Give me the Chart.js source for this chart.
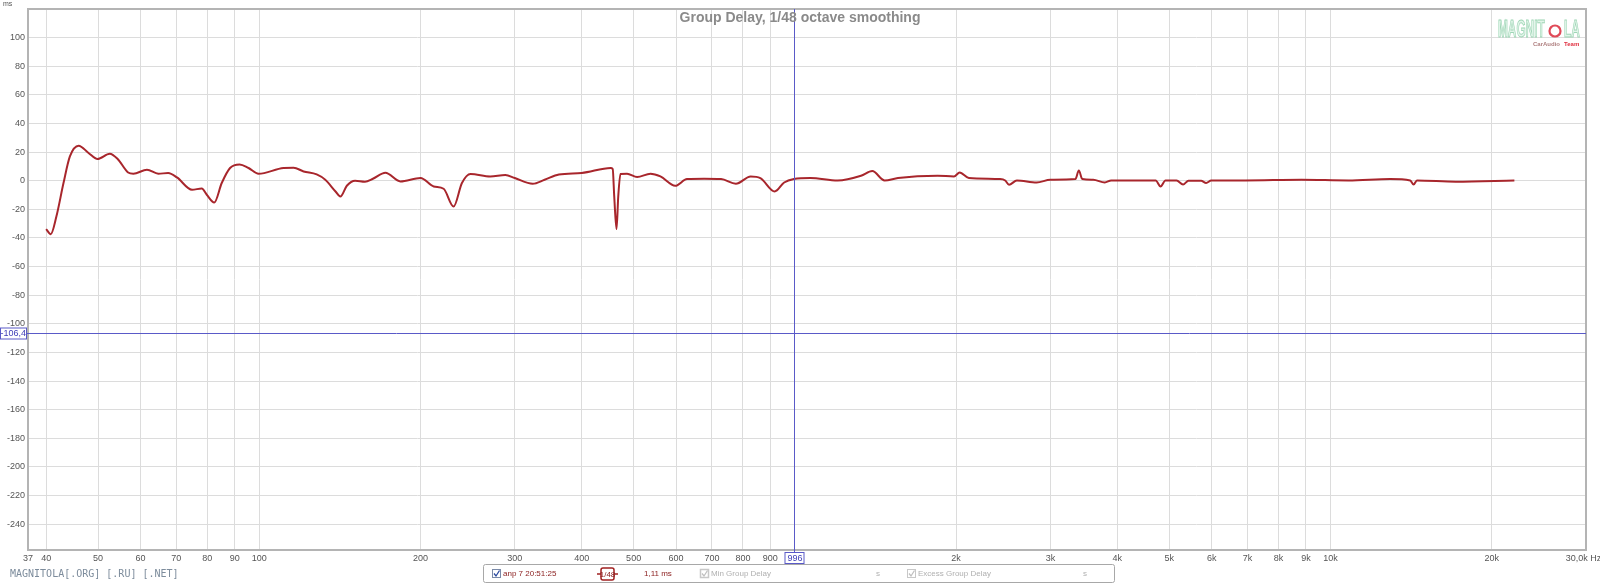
<!DOCTYPE html>
<html>
<head>
<meta charset="utf-8">
<script src="https://cdn.jsdelivr.net/npm/chart.js@4/dist/chart.umd.min.js"></script>
<style>
html,body{margin:0;padding:0;background:#fff;}
canvas{display:block;}
</style>
</head>
<body>
<canvas id="c" width="1600" height="584"></canvas>
<script>
// ---- data ----
const freqs = [40, 40.8, 41.8, 43.1, 44.3, 46, 48, 49.9, 52.6, 54.4, 56.9, 58.2, 61.7, 64.8, 67.6, 70.2, 74.9, 78.1, 79.8, 82.4,
  85.1, 88.2, 91.9, 95.5, 99.7, 111, 115.9, 121, 128, 132.8, 138.8, 141.7, 145.7, 151, 157.5, 163, 172, 183.4, 200,
  211.7, 220.9, 230.6, 239, 248, 270, 288, 300, 324, 341, 362.6, 400, 453, 457, 460, 464.5, 468, 472.5, 486, 507.6,
  537.6, 561, 598, 629, 677, 728, 776, 827, 862, 917, 955, 996, 1069, 1202, 1329, 1395, 1471, 1558, 1847, 1982, 2031,
  2113, 2417, 2470, 2511, 2597, 2828, 3000, 3341, 3390, 3440, 3607, 3790, 3896, 4717, 4817, 4920, 5160, 5306, 5430,
  5734, 5860, 5990, 6926, 8828, 10800, 12924, 14090, 14297, 14500, 17130, 22050];
const delays = [-33.8, -37.3, -25, -1.6, 17, 24.5, 19.4, 15.2, 18.9, 15.2, 5.8, 4.9, 7.7, 4.9, 5.4, 2.3, -6.3, -5.4, -9.8, -15.2,
  -1.6, 8.9, 11.4, 8.9, 4.9, 8.9, 9.1, 6.5, 4.4, 0.7, -7.5, -11, -3.5, 0, -0.7, 1.4, 5.6, -0.5, 1.9,
  -4, -5.6, -18, -1.6, 4.7, 3.0, 4.0, 1.9, -2.1, 0.7, 4.4, 5.4, 8.9, 8.2, -11, -33.8, -11, 4.7, 4.9, 2.6,
  4.9, 3.0, -3.5, 1.2, 1.4, 1.2, -2.1, 3.0, 1.9, -7.5, -1.2, 1.2, 1.9, 0.2, 3.5, 6.8, 0.2, 1.9, 3.5, 3.0, 5.8,
  1.9, 1.2, 0.2, -2.8, 0.2, -1.2, 0.7, 1.2, 7.2, 1.2, 0.7, -1.2, 0.2, 0.2, -4, 0.2, 0.2, -2.6, 0,
  0, -1.6, 0.2, 0.2, 0.7, 0.2, 1.2, 0.2, -2.6, 0.2, -0.7, 0.2];
const xTickValues = [37, 40, 50, 60, 70, 80, 90, 100, 200, 300, 400, 500, 600, 700, 800, 900, 1000,
  2000, 3000, 4000, 5000, 6000, 7000, 8000, 9000, 10000, 20000, 30000];
const xTickLabels = ['37', '40', '50', '60', '70', '80', '90', '100', '200', '300', '400', '500', '600', '700', '800', '900', '',
  '2k', '3k', '4k', '5k', '6k', '7k', '8k', '9k', '10k', '20k', '30,0k Hz\u00a0\u00a0'];
const yTickValues = [100, 80, 60, 40, 20, 0, -20, -40, -60, -80, -100, -120, -140, -160, -180, -200, -220, -240];
const xRange = [37, 30000];
const yRange = [-258, 120];
const cursorFreq = 996;
const cursorDelay = -106.4;
const titleText = 'Group Delay, 1/48 octave smoothing';
const seriesName = 'anp 7 20:51:25';
const smoothingText = '1/48';
const cursorValueText = '1,11 ms';

const points = freqs.map((f, i) => ({x: f, y: delays[i]}));

const overlay = {
  id: 'overlay',
  afterDraw(chart) {
    const ctx = chart.ctx;
    const a = chart.chartArea;
    const xs = chart.scales.x, ys = chart.scales.y;
    ctx.save();
    // frame
    ctx.strokeStyle = '#b4b4b4';
    ctx.lineWidth = 2;
    ctx.strokeRect(a.left, a.top, a.right - a.left, a.bottom - a.top);
    // cursor lines
    const cx = Math.round(xs.getPixelForValue(cursorFreq)) + 0.5;
    const cy = Math.round(ys.getPixelForValue(cursorDelay)) + 0.5;
    ctx.strokeStyle = '#5a5ac8';
    ctx.lineWidth = 1;
    ctx.beginPath();
    ctx.moveTo(cx, a.top); ctx.lineTo(cx, a.bottom + 3);
    ctx.moveTo(0, cy); ctx.lineTo(a.right, cy);
    ctx.stroke();
    // cursor labels
    ctx.font = '9px "Liberation Sans", Arial, sans-serif';
    ctx.textBaseline = 'middle';
    ctx.textAlign = 'center';
    ctx.fillStyle = '#fff';
    ctx.fillRect(cx - 9, a.bottom + 3, 19, 11);
    ctx.strokeStyle = '#5a5ac8';
    ctx.strokeRect(cx - 9.5, a.bottom + 2.5, 19, 11);
    ctx.fillStyle = '#4040b8';
    ctx.fillText(String(cursorFreq), cx + 0.5, a.bottom + 8.5);
    ctx.fillStyle = '#fff';
    ctx.fillRect(0, cy - 5, a.left - 1, 11);
    ctx.strokeRect(0.5, cy - 5.5, a.left - 2, 11);
    ctx.fillStyle = '#4040b8';
    ctx.textAlign = 'right';
    ctx.fillText(String(cursorDelay).replace('.', ','), a.left - 2, cy + 0.5);
    // unit label
    ctx.fillStyle = '#555';
    ctx.font = '7px "Liberation Sans", Arial, sans-serif';
    ctx.textAlign = 'left';
    ctx.fillText('ms', 3, 4);
    // title
    ctx.font = 'bold 14px "Liberation Sans", Arial, sans-serif';
    ctx.fillStyle = '#8a8a8a';
    ctx.textAlign = 'center';
    ctx.fillText(titleText, chart.width / 2, 18);
    // logo
    const logoText = (txt, x) => {
      ctx.save();
      ctx.translate(x, 37);
      ctx.scale(0.74, 1.45);
      ctx.font = 'bold 16px "Liberation Sans", Arial, sans-serif';
      ctx.textAlign = 'left';
      ctx.textBaseline = 'alphabetic';
      ctx.fillStyle = '#e2f5ea';
      ctx.strokeStyle = '#9fd6b6';
      ctx.lineWidth = 0.7;
      ctx.fillText(txt, 0, 0);
      ctx.strokeText(txt, 0, 0);
      ctx.restore();
    };
    logoText('MAGNIT', 1498);
    logoText('LA', 1564);
    ctx.strokeStyle = '#e04a58';
    ctx.lineWidth = 2.2;
    ctx.beginPath();
    ctx.arc(1555, 31, 5.5, 0, Math.PI * 2);
    ctx.stroke();
    ctx.font = 'bold 6px "Liberation Sans", Arial, sans-serif';
    ctx.textAlign = 'left';
    ctx.fillStyle = '#b08080';
    ctx.fillText('CarAudio', 1533, 44);
    ctx.fillStyle = '#e03040';
    ctx.fillText('Team', 1564, 44);
    // watermark
    ctx.font = '10px "DejaVu Sans Mono", monospace';
    ctx.fillStyle = '#7d8c9c';
    ctx.fillText('MAGNITOLA[.ORG] [.RU] [.NET]', 10, 574);
    // legend box
    ctx.strokeStyle = '#a8a8a8';
    ctx.lineWidth = 1;
    ctx.beginPath();
    ctx.roundRect(483.5, 564.5, 631, 18, 2);
    ctx.stroke();
    const box = (x, active) => {
      ctx.fillStyle = '#fff';
      ctx.fillRect(x, 569, 9, 9);
      ctx.strokeStyle = active ? '#7a8aa8' : '#c8c8c8';
      ctx.strokeRect(x + 0.5, 569.5, 8, 8);
      ctx.strokeStyle = active ? '#2a4aa0' : '#c0c0c0';
      ctx.lineWidth = 1.3;
      ctx.beginPath();
      ctx.moveTo(x + 2, 573.5); ctx.lineTo(x + 4, 576); ctx.lineTo(x + 7.5, 570.5);
      ctx.stroke();
      ctx.lineWidth = 1;
    };
    ctx.font = '8px "Liberation Sans", Arial, sans-serif';
    ctx.textBaseline = 'middle';
    box(492, true);
    ctx.fillStyle = '#8a1c1c';
    ctx.fillText(seriesName, 503, 574);
    ctx.strokeStyle = '#a02020';
    ctx.lineWidth = 1.5;
    ctx.beginPath(); ctx.moveTo(597, 574); ctx.lineTo(618, 574); ctx.stroke();
    ctx.fillStyle = '#fff';
    ctx.beginPath();
    ctx.roundRect(601, 568, 13, 12, 2);
    ctx.fill();
    ctx.stroke();
    ctx.fillStyle = '#8a1c1c';
    ctx.font = '8px "Liberation Sans", Arial, sans-serif';
    ctx.textAlign = 'center';
    ctx.fillText(smoothingText, 607.5, 574.5);
    ctx.textAlign = 'left';
    ctx.fillText(cursorValueText, 644, 574);
    box(700, false);
    ctx.fillStyle = '#b0b0b0';
    ctx.fillText('Min Group Delay', 711, 574);
    ctx.fillText('s', 876, 574);
    box(907, false);
    ctx.fillStyle = '#b0b0b0';
    ctx.fillText('Excess Group Delay', 918, 574);
    ctx.fillText('s', 1083, 574);
    ctx.restore();
  }
};

new Chart(document.getElementById('c'), {
  type: 'line',
  data: {
    datasets: [{
      label: seriesName,
      data: points,
      borderColor: '#a8262c',
      borderWidth: 2,
      pointRadius: 0,
      fill: false,
      cubicInterpolationMode: 'monotone'
    }]
  },
  options: {
    responsive: false,
    animation: false,
    devicePixelRatio: 1,
    layout: {padding: {top: 9, right: 14, left: 0, bottom: 0}},
    plugins: {legend: {display: false}, tooltip: {enabled: false}, title: {display: false}},
    scales: {
      x: {
        type: 'logarithmic',
        min: xRange[0], max: xRange[1],
        afterBuildTicks: s => { s.ticks = xTickValues.map(v => ({value: v})); },
        afterFit: s => { s.height = 34; s.paddingLeft = 0; s.paddingRight = 0; },
        ticks: {
          autoSkip: false, maxRotation: 0, minRotation: 0, padding: 3,
          color: '#555', font: {size: 9, family: '"Liberation Sans", Arial, sans-serif'},
          callback: (v, i) => xTickLabels[i]
        },
        grid: {color: '#dcdcdc', drawTicks: false, lineWidth: 1},
        border: {display: false}
      },
      y: {
        type: 'linear',
        min: yRange[0], max: yRange[1],
        afterBuildTicks: s => { s.ticks = yTickValues.map(v => ({value: v})); },
        afterFit: s => { s.width = 28; s.paddingTop = 0; s.paddingBottom = 0; },
        ticks: {
          padding: 3, color: '#555', font: {size: 9, family: '"Liberation Sans", Arial, sans-serif'},
          callback: v => String(v)
        },
        grid: {color: '#dcdcdc', drawTicks: false, lineWidth: 1},
        border: {display: false}
      }
    }
  },
  plugins: [overlay]
});
</script>
</body>
</html>
